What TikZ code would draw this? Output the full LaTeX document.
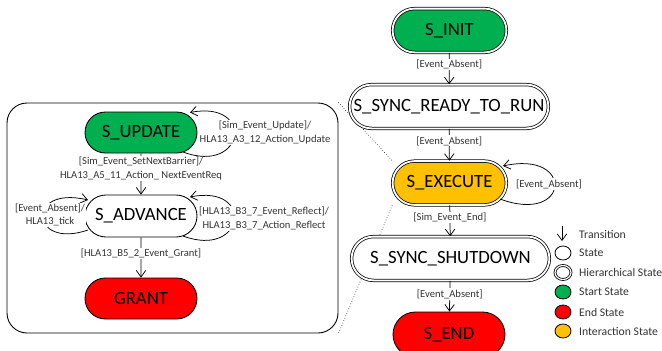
\documentclass[tikz,border=0pt]{standalone}
\usepackage{fontspec}
\setmainfont{Carlito}
\usetikzlibrary{arrows.meta,shapes.misc,shapes.geometric,calc,backgrounds}
\definecolor{startgreen}{HTML}{00B050}
\definecolor{endred}{HTML}{FF0000}
\definecolor{interorange}{HTML}{FFC000}
\tikzset{
  state/.style={rounded rectangle, draw, fill=white, line width=0.85pt,
    font=\fontsize{18.7}{20}\selectfont, inner sep=0pt,
    minimum width=112pt, minimum height=42pt},
  hstate/.style={state, double, double distance=1.8pt, line width=0.75pt,
    minimum width=113.8pt, minimum height=43.8pt},
  trans/.style={-{Straight Barb[length=6.5pt,width=9.5pt]}, line width=0.75pt},
  lbl/.style={font=\fontsize{10.6}{13.5}\selectfont, text=black!80,
    fill=white, inner sep=1pt, align=center},
  legtext/.style={font=\fontsize{11.7}{13}\selectfont, text=black!80,
    anchor=west, inner sep=0pt},
  legdot/.style={ellipse, draw, line width=0.8pt, minimum width=16pt,
    minimum height=14pt, inner sep=0pt},
  zoomline/.style={dotted, line width=0.6pt},
}
\begin{document}
\begin{tikzpicture}[x=1pt,y=-1pt]
\useasboundingbox (0,0) rectangle (662,351);
\clip (0,0) rectangle (662,351);

% expanded view of S_EXECUTE
\node[draw, line width=0.9pt, rounded corners=20pt, minimum width=331pt,
      minimum height=230pt, inner sep=0pt] (box) at (172.5,218) {};

% top-level state machine
\node[hstate, fill=startgreen] (init) at (449.5,30.5) {S\_INIT};
\node[hstate, minimum width=198.8pt] (sync) at (449,106.5) {S\_SYNC\_READY\_TO\_RUN};
\node[hstate, fill=interorange] (exec) at (449.5,183) {S\_EXECUTE};
\node[hstate, minimum width=197.8pt] (shut) at (450.5,258.5) {S\_SYNC\_SHUTDOWN};
\node[state, fill=endred, minimum height=45pt] (end) at (449,334.5) {S\_END};

% sub-machine
\node[state, fill=startgreen, minimum height=41pt] (update) at (141,132.5) {S\_UPDATE};
\node[state] (advance) at (141,216) {S\_ADVANCE};
\node[state, fill=endred, minimum height=41pt] (grant) at (141,298.5) {GRANT};

% dotted zoom lines behind the states
\begin{pgfonlayer}{background}
  \draw[zoomline] (box.north east) -- (exec.west |- exec.north);
  \draw[zoomline] (exec.west |- exec.south) -- (box.south east);
\end{pgfonlayer}

% top-level transitions
\draw[trans] (init) -- node[lbl, pos=0.38] {[Event\_Absent]} (sync);
\draw[trans] (sync) -- node[lbl, pos=0.38] {[Event\_Absent]} (exec);
\draw[trans] (exec) -- node[lbl, pos=0.4] {[Sim\_Event\_End]} (shut);
\draw[trans] (shut) -- node[lbl, pos=0.43] {[Event\_Absent]} (end);

\draw[trans] ($(exec)+(50.5,16)$) .. controls ($(exec)+(120.5,42)$)
  and ($(exec)+(125.5,-33)$) .. ($(exec)+(53.5,-17)$);
\node[lbl] (execlbl) at ($(exec)+(99.5,1)$) {[Event\_Absent]};

% sub-machine transitions
\draw[trans] (update) -- node[lbl, pos=0.37]
  {[Sim\_Event\_SetNextBarrier]/\\HLA13\_A5\_11\_Action\_ NextEventReq} (advance);
\draw[trans] (advance) -- node[lbl, pos=0.41] {[HLA13\_B5\_2\_Event\_Grant]} (grant);

\draw[trans] ($(update)+(42,19.5)$) .. controls ($(update)+(104,42.5)$)
  and ($(update)+(114,-32.5)$) .. ($(update)+(49,-20)$);
\node[lbl] (updlbl) at ($(update)+(124,0)$)
  {[Sim\_Event\_Update]/\\HLA13\_A3\_12\_Action\_Update};

\draw[trans] ($(advance)+(42,20)$) .. controls ($(advance)+(104,43)$)
  and ($(advance)+(114,-32)$) .. ($(advance)+(49,-19)$);
\node[lbl] (refllbl) at ($(advance)+(123,2.5)$)
  {[HLA13\_B3\_7\_Event\_Reflect]/\\HLA13\_B3\_7\_Action\_Reflect};

\draw[trans] ($(advance)+(-53,14)$) .. controls ($(advance)+(-111,34)$)
  and ($(advance)+(-116,-31)$) .. ($(advance)+(-53,-16)$);
\node[lbl] (ticklbl) at ($(advance)+(-91,-1)$) {[Event\_Absent]/\\HLA13\_tick};

% legend
\coordinate (legA) at (562,226);
\coordinate (legB) at (562,241);
\draw[trans] (legA) -- (legB);
\node[legtext] (lt1) at (579,234) {Transition};
\node[legdot] (ld2) at (563,253) {};
\node[legtext] (lt2) at (579,253) {State};
\node[legdot, double, double distance=1.2pt, line width=0.8pt] (ld3) at (563,272.5) {};
\node[legtext] (lt3) at (579,272.5) {Hierarchical State};
\node[legdot, fill=startgreen] (ld4) at (563,292) {};
\node[legtext] (lt4) at (579,292) {Start State};
\node[legdot, fill=endred] (ld5) at (563,312) {};
\node[legtext] (lt5) at (579,312) {End State};
\node[legdot, fill=interorange] (ld6) at (563,331) {};
\node[legtext] (lt6) at (579,331) {Interaction State};
\end{tikzpicture}
\end{document}
